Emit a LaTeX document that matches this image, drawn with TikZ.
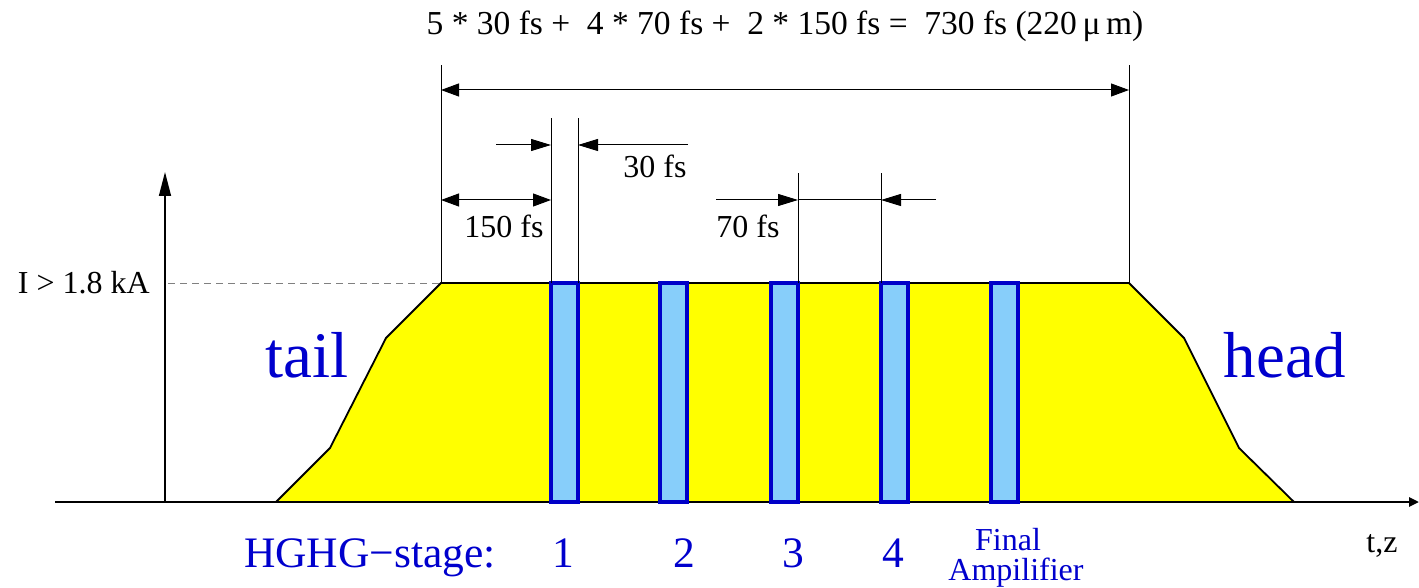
\documentclass[tikz,border=0pt]{standalone}
\usepackage{fontspec}
\setmainfont{Liberation Serif}
\usetikzlibrary{arrows.meta}
\definecolor{bluetxt}{RGB}{0,0,205}
\definecolor{boxline}{RGB}{0,0,200}
\definecolor{boxfill}{RGB}{135,206,250}
\definecolor{beam}{RGB}{255,255,0}
\tikzset{
  dimline/.style={line width=1pt},
  tip/.style={-{Triangle[length=20pt,width=12pt]}},
  dbltip/.style={{Triangle[length=18pt,width=13pt]}-{Triangle[length=18pt,width=13pt]}},
  stagebox/.style={draw=boxline,fill=boxfill,line width=3.2pt},
  lbl/.style={inner sep=0pt,anchor=base,font=\fontsize{32}{36}\selectfont},
  bluelbl/.style={inner sep=0pt,anchor=base,text=bluetxt},
}
\begin{document}
\begin{tikzpicture}[x=1pt,y=-1pt]
\useasboundingbox (0,0) rectangle (1419,588);
% beam profile
\draw[fill=beam,line width=1.8pt,line join=miter]
  (276,502) -- (330,448) -- (386,338) -- (441,283) -- (1129,283) -- (1184,338) -- (1239,448) -- (1294,502);
% axes
\coordinate (xs) at (55,502);
\coordinate (xe) at (1419,502);
\coordinate (ys) at (165,502);
\coordinate (ye) at (165,172);
\draw[line width=2.5pt,-{Triangle[length=10pt,width=9pt]}] (xs) -- (xe);
\draw[line width=1.5pt,-{Triangle[length=24pt,width=12pt]}] (ys) -- (ye);
\coordinate (dl) at (168,283);
\coordinate (dr) at (441,283);
\draw[gray,line width=1pt,dash pattern=on 7pt off 5pt] (dl) -- (dr);
% stage boxes
\foreach \x/\n in {551/1,660/2,771/3,881/4,991/5}{
  \draw[stagebox] (\x,283) rectangle ++(27,219);
}
% extension lines
\coordinate (L1b) at (441,283); \coordinate (L1t) at (441,65);
\coordinate (L2b) at (1129,283); \coordinate (L2t) at (1129,65);
\coordinate (L3b) at (551,283); \coordinate (L3t) at (551,118);
\coordinate (L4b) at (578,283); \coordinate (L4t) at (578,118);
\coordinate (L5b) at (798,283); \coordinate (L5t) at (798,173);
\coordinate (L6b) at (881,283); \coordinate (L6t) at (881,173);
\foreach \a/\b in {L1b/L1t,L2b/L2t,L3b/L3t,L4b/L4t,L5b/L5t,L6b/L6t}{
  \draw[dimline] (\a) -- (\b);
}
% total arrow
\coordinate (T1) at (441,90); \coordinate (T2) at (1129,90);
\draw[dimline,dbltip] (T1) -- (T2);
% 30 fs
\coordinate (A1) at (496,145); \coordinate (A2) at (551,145);
\coordinate (A3) at (688,145); \coordinate (A4) at (578,145);
\draw[dimline,tip] (A1) -- (A2);
\draw[dimline,tip] (A3) -- (A4);
% 150 fs
\coordinate (B1) at (441,200); \coordinate (B2) at (551,200);
\draw[dimline,dbltip] (B1) -- (B2);
% 70 fs
\coordinate (C1) at (716,200); \coordinate (C2) at (798,200);
\coordinate (C3) at (936,200); \coordinate (C4) at (881,200);
\draw[dimline,tip] (C1) -- (C2);
\draw[dimline,tip] (C3) -- (C4);
\draw[dimline] (C2) -- (C4);
% labels
\node[lbl,font=\fontsize{33.5}{38}\selectfont] (total) at (785,35) {5 * 30 fs +\ \ 4 * 70 fs +\ \ 2 * 150 fs =\ \ 730 fs (220\,μ\,m)};
\node[lbl] (l30) at (655,178) {30 fs};
\node[lbl] (l150) at (504,238) {150 fs};
\node[lbl] (l70) at (748,238) {70 fs};
\node[lbl,anchor=base east] (cur) at (150,293) {I > 1.8 kA};
\node[lbl] (tz) at (1382,552) {t,z};
\node[bluelbl,font=\fontsize{65}{70}\selectfont] (tail) at (307,377) {tail};
\node[bluelbl,font=\fontsize{65}{70}\selectfont] (head) at (1285,377) {head};
\node[bluelbl,font=\fontsize{43.5}{48}\selectfont] (hghg) at (370,567) {HGHG−stage:};
\node[bluelbl,font=\fontsize{43.5}{48}\selectfont] (s1) at (563,567) {1};
\node[bluelbl,font=\fontsize{43.5}{48}\selectfont] (s2) at (684,567) {2};
\node[bluelbl,font=\fontsize{43.5}{48}\selectfont] (s3) at (793,567) {3};
\node[bluelbl,font=\fontsize{43.5}{48}\selectfont] (s4) at (893,567) {4};
\node[bluelbl,font=\fontsize{32}{36}\selectfont] (fin) at (1008,550) {Final};
\node[bluelbl,font=\fontsize{32}{36}\selectfont] (amp) at (1016,580) {Ampilifier};
\end{tikzpicture}
\end{document}
